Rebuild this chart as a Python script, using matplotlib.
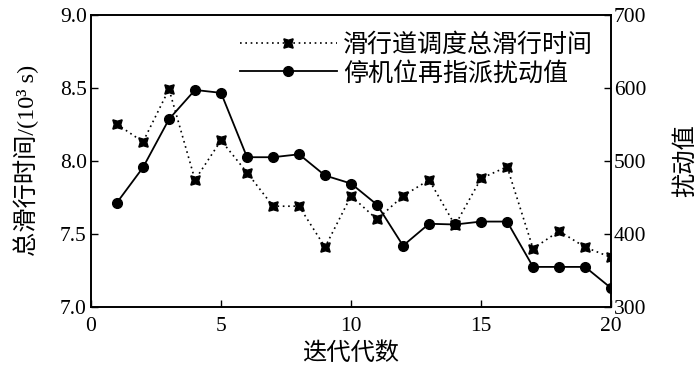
import matplotlib
matplotlib.use("Agg")
import matplotlib.pyplot as plt

iterations = list(range(1, 21))
taxi_time = [8.25, 8.13, 8.49, 7.87, 8.14, 7.92, 7.69, 7.69, 7.41, 7.76,
             7.60, 7.76, 7.87, 7.56, 7.88, 7.96, 7.40, 7.52, 7.41, 7.34]
disturbance = [443, 491, 557, 597, 593, 505, 505, 509, 480, 469,
               440, 384, 414, 413, 417, 417, 355, 355, 355, 326]

label_taxi = "滑行道调度总滑行时间"
label_dist = "停机位再指派扰动值"
xlabel = "迭代代数"
ylabel_left = "总滑行时间/(10³ s)"
ylabel_right = "扰动值"
xticks = [0, 5, 10, 15, 20]
yticks_left = [7.0, 7.5, 8.0, 8.5, 9.0]
yticks_right = [300, 400, 500, 600, 700]

fam = ["Liberation Serif", "Noto Sans CJK SC"]
plt.rcParams["font.family"] = fam
plt.rcParams["axes.unicode_minus"] = False

fig = plt.figure(figsize=(7, 3.75), dpi=100)
ax = fig.add_axes([0.13, 0.181, 0.743, 0.78])
ax2 = ax.twinx()

star = (4, 1, 45)
l1, = ax.plot(iterations, taxi_time, color="black", linestyle=(0, (1, 2.2)),
              linewidth=1.2, marker=star, markersize=9.5, label=label_taxi)
l2, = ax2.plot(iterations, disturbance, color="black", linestyle="-",
               linewidth=1.3, marker="o", markersize=7, label=label_dist)

ax.set_xlim(0, 20)
ax.set_ylim(7.0, 9.0)
ax2.set_ylim(300, 700)
ax.set_xticks(xticks)
ax.set_yticks(yticks_left)
ax.set_yticklabels([f"{v:.1f}" for v in yticks_left])
ax2.set_yticks(yticks_right)

for a in (ax, ax2):
    a.tick_params(direction="in", length=5, width=1, labelsize=15.5, pad=3)
    for s in a.spines.values():
        s.set_linewidth(1.2)
ax.tick_params(axis="x", pad=7)
ax2.tick_params(axis="y", pad=2)

ax.set_xlabel(xlabel, fontsize=17.5, labelpad=5, fontweight="light")
ax.set_ylabel(ylabel_left, fontsize=17.5, labelpad=15, fontweight="light")
ax2.set_ylabel(ylabel_right, fontsize=17.5, labelpad=20, fontweight="light")

leg = ax.legend(handles=[l1, l2], loc="upper right", frameon=False,
                fontsize=18, handlelength=3.9, handletextpad=0.25,
                borderaxespad=0.0, labelspacing=0.2,
                bbox_to_anchor=(0.985, 0.972),
                prop={"size": 18, "weight": "light", "family": fam})

fig.savefig("out.png", dpi=100)
